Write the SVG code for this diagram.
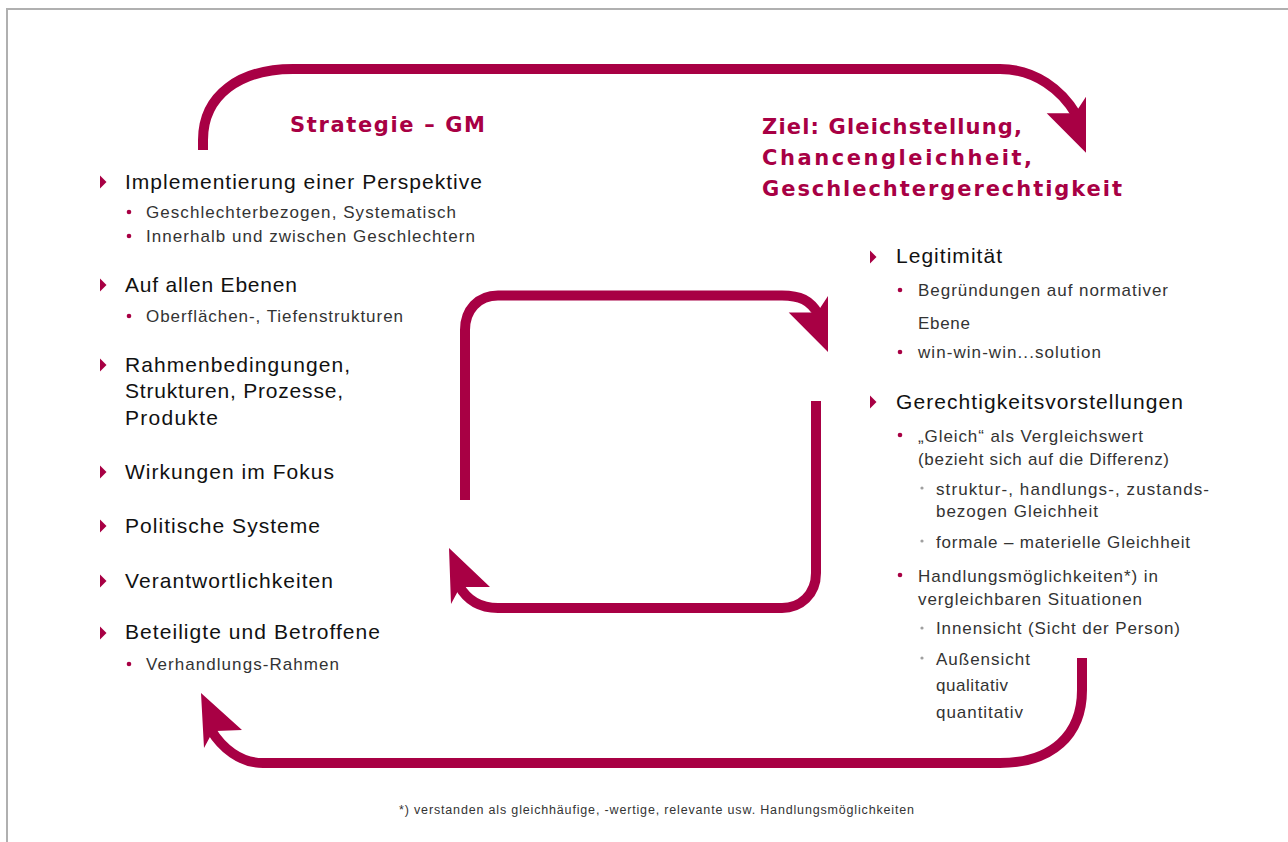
<svg xmlns="http://www.w3.org/2000/svg" xmlns:xlink="http://www.w3.org/1999/xlink" width="1288" height="842" viewBox="0 0 1288 842">
<style>
.arc{fill:none;stroke:#a80044;stroke-width:10}
.ah{fill:#a80044}
text{font-family:"Liberation Sans",Arial,sans-serif}
.t1{font-size:21px;fill:#111}
.t2{font-size:17px;fill:#333}
.hd{font-family:"DejaVu Sans","Liberation Sans",sans-serif;font-size:21px;font-weight:bold;fill:#a80044}
.fn{font-size:12.5px;fill:#333}
.tri{fill:#a80044}
.d1{fill:#a80044}
.d2{fill:#a0a0a0}
</style>
<defs>
<path id="tri" d="M0,-6.5 L6.5,0 L0,6.5 Z"/>
</defs>
<rect width="1288" height="842" fill="#fff"/>
<path d="M7,842 V9 H1288" fill="none" stroke="#b0b0b0" stroke-width="2"/>

<g id="connectors">
<path class="arc" d="M203,150 L203,140 C203,95 240,69 293,69 L1000,69 C1035,69 1062,90 1076.5,115"/>
<polygon class="ah" points="1046.7,113.3 1071.7,113.3 1077.3,110 1086,96.7 1086,152.7"/>
<path class="arc" d="M1082,658 L1082,690 C1082,735 1052,763 1000,763 L263,763 C240,763 222,748 211,730"/>
<polygon class="ah" points="201,693 242,730 216,731 211,735 204,748"/>
<path class="arc" d="M465,500 L465,330 C465,310 478,295.5 498,295.5 L782,295.5 C800,295.5 810,300 818.5,314.4"/>
<polygon class="ah" points="788.7,312.6 813.7,312.6 819.3,309.3 828,296 828,352"/>
<path class="arc" d="M816,401 L816,573 C816,595 800,608 782,608 L498,608 C480,608 467,600 459,585.6"/>
<polygon class="ah" points="449,548 490,587 464,587 458,591 451,604"/>
</g>

<g id="title-strategie">
<text class="hd" x="290" y="132" textLength="195">Strategie – GM</text>
</g>

<g id="title-ziel">
<text class="hd" x="762" y="134" textLength="260">Ziel: Gleichstellung,</text>
<text class="hd" x="762" y="165" textLength="270">Chancengleichheit,</text>
<text class="hd" x="762" y="196" textLength="360">Geschlechtergerechtigkeit</text>
</g>

<g id="item-implementierung">
<use xlink:href="#tri" class="tri" x="100" y="182"/>
<text class="t1" x="125" y="189" textLength="357">Implementierung einer Perspektive</text>
<circle class="d1" cx="129" cy="212" r="2.3"/>
<text class="t2" x="146" y="218" textLength="310">Geschlechterbezogen, Systematisch</text>
<circle class="d1" cx="129" cy="236" r="2.3"/>
<text class="t2" x="146" y="242" textLength="329">Innerhalb und zwischen Geschlechtern</text>
</g>

<g id="item-ebenen">
<use xlink:href="#tri" class="tri" x="100" y="285"/>
<text class="t1" x="125" y="292" textLength="172">Auf allen Ebenen</text>
<circle class="d1" cx="129" cy="316" r="2.3"/>
<text class="t2" x="146" y="322" textLength="257">Oberflächen-, Tiefenstrukturen</text>
</g>

<g id="item-rahmen">
<use xlink:href="#tri" class="tri" x="100" y="365"/>
<text class="t1" x="125" y="372" textLength="225">Rahmenbedingungen,</text>
<text class="t1" x="125" y="398" textLength="218">Strukturen, Prozesse,</text>
<text class="t1" x="125" y="425" textLength="93">Produkte</text>
</g>

<g id="item-wirkungen">
<use xlink:href="#tri" class="tri" x="100" y="472"/>
<text class="t1" x="125" y="479" textLength="209">Wirkungen im Fokus</text>
</g>

<g id="item-politische">
<use xlink:href="#tri" class="tri" x="100" y="526"/>
<text class="t1" x="125" y="533" textLength="195">Politische Systeme</text>
</g>

<g id="item-verantwortlich">
<use xlink:href="#tri" class="tri" x="100" y="581"/>
<text class="t1" x="125" y="588" textLength="208">Verantwortlichkeiten</text>
</g>

<g id="item-beteiligte">
<use xlink:href="#tri" class="tri" x="100" y="633"/>
<text class="t1" x="125" y="639" textLength="255">Beteiligte und Betroffene</text>
<circle class="d1" cx="129" cy="664" r="2.3"/>
<text class="t2" x="146" y="670" textLength="193">Verhandlungs-Rahmen</text>
</g>

<g id="item-legitimitaet">
<use xlink:href="#tri" class="tri" x="870" y="257"/>
<text class="t1" x="896" y="263" textLength="106">Legitimität</text>
<circle class="d1" cx="900" cy="290" r="2.3"/>
<text class="t2" x="918" y="296" textLength="250">Begründungen auf normativer</text>
<text class="t2" x="918" y="329" textLength="52">Ebene</text>
<circle class="d1" cx="900" cy="352" r="2.3"/>
<text class="t2" x="918" y="358" textLength="183">win-win-win...solution</text>
</g>

<g id="item-gerechtigkeit">
<use xlink:href="#tri" class="tri" x="870" y="402"/>
<text class="t1" x="896" y="409" textLength="287">Gerechtigkeitsvorstellungen</text>
<circle class="d1" cx="900" cy="435" r="2.3"/>
<text class="t2" x="918" y="442" textLength="225">„Gleich“ als Vergleichswert</text>
<text class="t2" x="918" y="465" textLength="251">(bezieht sich auf die Differenz)</text>
<circle class="d2" cx="922" cy="488" r="1.6"/>
<text class="t2" x="936" y="495" textLength="273">struktur-, handlungs-, zustands-</text>
<text class="t2" x="936" y="517" textLength="162">bezogen Gleichheit</text>
<circle class="d2" cx="922" cy="541" r="1.6"/>
<text class="t2" x="936" y="548" textLength="254">formale – materielle Gleichheit</text>
<circle class="d1" cx="900" cy="575" r="2.3"/>
<text class="t2" x="918" y="582" textLength="240">Handlungsmöglichkeiten*) in</text>
<text class="t2" x="918" y="605" textLength="224">vergleichbaren Situationen</text>
<circle class="d2" cx="922" cy="628" r="1.6"/>
<text class="t2" x="936" y="634" textLength="244">Innensicht (Sicht der Person)</text>
<circle class="d2" cx="922" cy="658" r="1.6"/>
<text class="t2" x="936" y="665" textLength="94">Außensicht</text>
<text class="t2" x="936" y="691" textLength="72">qualitativ</text>
<text class="t2" x="936" y="718" textLength="87">quantitativ</text>
</g>

<g id="footnote">
<text class="fn" x="399" y="814" textLength="515">*) verstanden als gleichhäufige, -wertige, relevante usw. Handlungsmöglichkeiten</text>
</g>
</svg>
